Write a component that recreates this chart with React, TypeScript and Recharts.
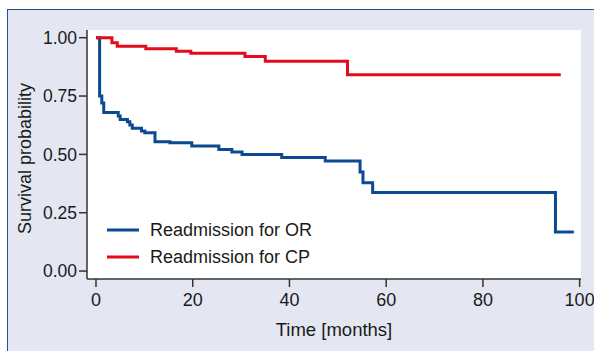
import { CartesianGrid, Label, Legend, Line, LineChart, XAxis, YAxis } from "recharts";

const orTimes = [0, 0.75, 1.2, 1.6, 4.6, 5.0, 6.5, 7.0, 7.5, 9.4, 10.1, 12.2, 15.3, 19.8, 25.4, 28.1, 30.2, 38.4, 47.4, 54.6, 55.2, 57.2, 95, 98.8];
const orSurvival = [1, 0.75, 0.72, 0.679, 0.664, 0.65, 0.64, 0.626, 0.612, 0.6, 0.593, 0.554, 0.55, 0.536, 0.521, 0.51, 0.5, 0.487, 0.472, 0.425, 0.378, 0.337, 0.167, 0.167];

const cpTimes = [0, 3.3, 4.4, 10.3, 16.6, 19.6, 30.8, 35, 52, 96.1];
const cpSurvival = [1, 0.978, 0.963, 0.953, 0.942, 0.933, 0.919, 0.899, 0.841, 0.841];

const xTicks = [0, 20, 40, 60, 80, 100];
const yTicks = [0, 0.25, 0.5, 0.75, 1];

const seriesNames = ["Readmission for OR", "Readmission for CP"];
const seriesColors = ["#0b4a92", "#e30b1c"];

const orData = orTimes.map((t, i) => ({ t, s: orSurvival[i] }));
const cpData = cpTimes.map((t, i) => ({ t, s: cpSurvival[i] }));

const FONT = "'Liberation Sans', Arial, sans-serif";
const AXIS = "#333333";
const INK = "#1a1a1a";

function LegendBox() {
  return (
    <svg width={260} height={60}>
      {seriesNames.map((name, i) => (
        <g key={name}>
          <line x1={0} x2={32} y1={12 + i * 27} y2={12 + i * 27} stroke={seriesColors[i]} strokeWidth={3} />
          <text x={43} y={12 + i * 27} dy="0.36em" fontSize={18} fontFamily={FONT} fill={INK}>
            {name}
          </text>
        </g>
      ))}
    </svg>
  );
}

export default function App() {
  return (
    <div style={{ position: "fixed", left: 0, top: 0, width: 594, height: 351, background: "#fff" }}>
      <div
        style={{
          position: "absolute",
          left: 7,
          top: 9,
          width: 587,
          height: 342,
          background: "#e4e7f2",
          borderTop: "1.5px solid #1f5096",
          borderLeft: "1.5px solid #1f5096",
          boxSizing: "border-box",
        }}
      />
      <div style={{ position: "absolute", left: 0, top: 0 }}>
        <LineChart width={594} height={351} margin={{ top: 30, right: 13, bottom: 0, left: 0 }}>
          <CartesianGrid horizontal={false} vertical={false} fill="#ffffff" />
          <XAxis
            type="number"
            dataKey="t"
            domain={[-1.86, 100.28]}
            ticks={xTicks}
            allowDataOverflow
            height={72}
            stroke={AXIS}
            strokeWidth={1.5}
            tickSize={8}
            tickMargin={6}
            tick={{ fontSize: 18, fontFamily: FONT, fill: INK }}
          >
            <Label value="Time [months]" position="insideBottom" offset={15} fontSize={18.5} fontFamily={FONT} fill={INK} />
          </XAxis>
          <YAxis
            type="number"
            dataKey="s"
            domain={[-0.034, 1.033]}
            ticks={yTicks}
            allowDataOverflow
            width={87}
            stroke={AXIS}
            strokeWidth={1.5}
            tickSize={8}
            tickMargin={2}
            tickFormatter={(v: number) => v.toFixed(2)}
            tick={{ fontSize: 17.5, fontFamily: FONT, fill: INK }}
            label={({ viewBox }: any) => (
              <text
                x={viewBox.x + 25}
                y={viewBox.y + viewBox.height / 2 + 4}
                transform={`rotate(-90, ${viewBox.x + 25}, ${viewBox.y + viewBox.height / 2 + 4})`}
                textAnchor="middle"
                dy="0.36em"
                fontSize={18}
                fontFamily={FONT}
                fill={INK}
              >
                Survival probability
              </text>
            )}
          />
          <Legend
            layout="vertical"
            align="center"
            verticalAlign="middle"
            wrapperStyle={{ left: 107, top: 218, width: 260, height: 60 }}
            content={() => <LegendBox />}
          />
          <Line
            data={orData}
            dataKey="s"
            name={seriesNames[0]}
            type="stepAfter"
            stroke={seriesColors[0]}
            strokeWidth={3}
            dot={false}
            isAnimationActive={false}
          />
          <Line
            data={cpData}
            dataKey="s"
            name={seriesNames[1]}
            type="stepAfter"
            stroke={seriesColors[1]}
            strokeWidth={3}
            dot={false}
            isAnimationActive={false}
          />
        </LineChart>
      </div>
    </div>
  );
}
